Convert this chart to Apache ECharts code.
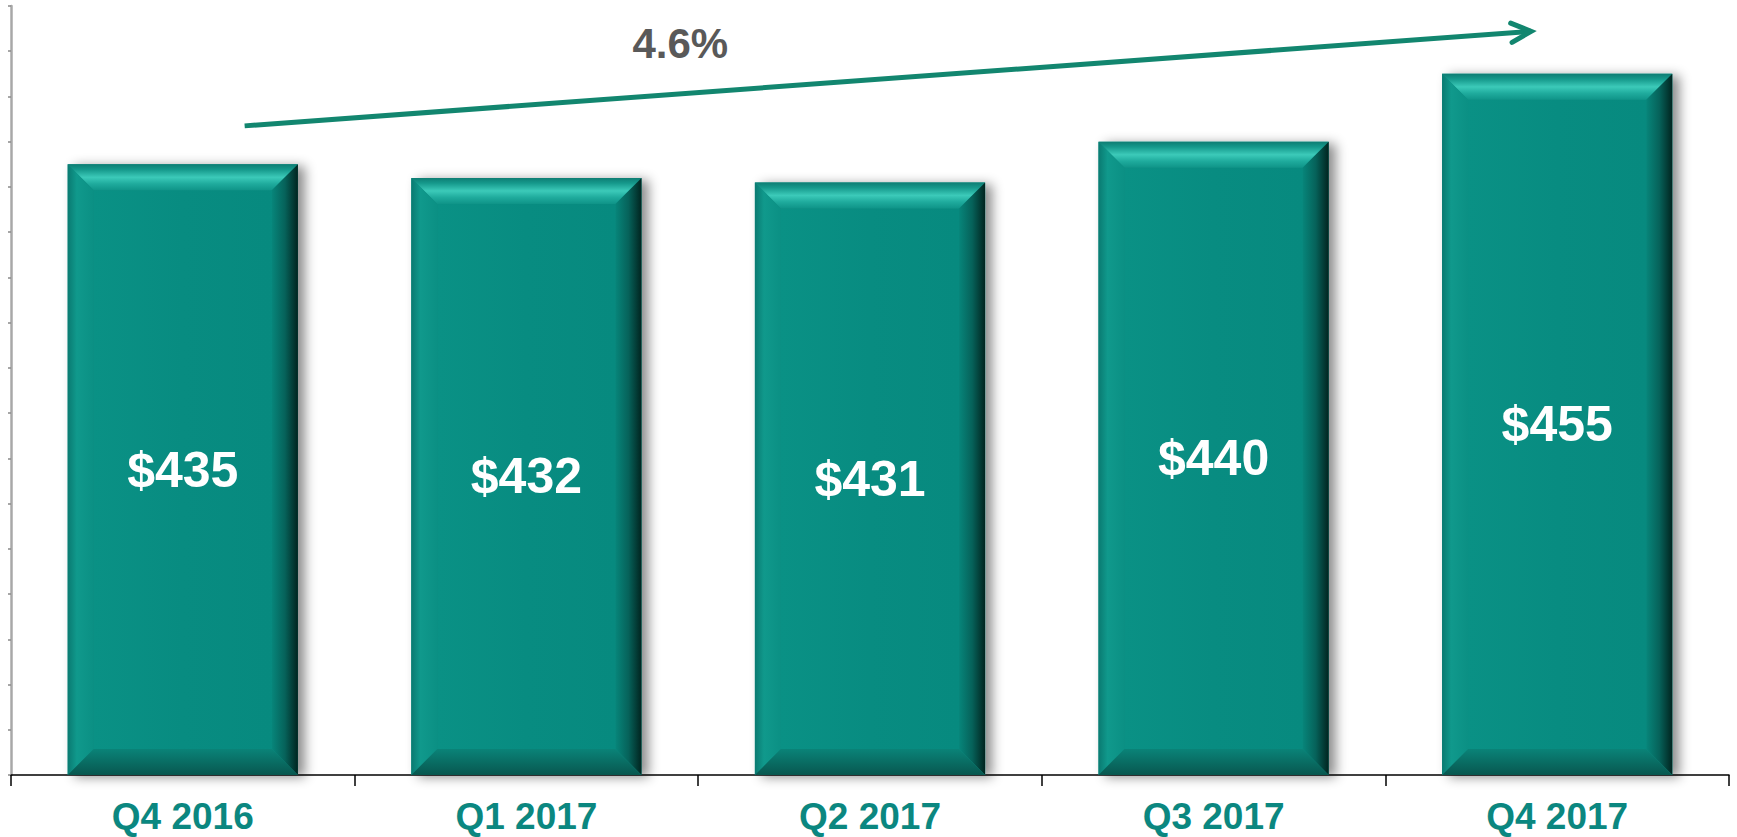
<!DOCTYPE html>
<html><head><meta charset="utf-8">
<script src="https://cdn.jsdelivr.net/npm/echarts/dist/echarts.min.js"></script>
<style>html,body{margin:0;padding:0;background:#fff}#c{width:1737px;height:837px}</style>
</head><body><div id="c"></div>
<script>
// ---- data ----
const categories = ['Q4 2016', 'Q1 2017', 'Q2 2017', 'Q3 2017', 'Q4 2017'];
const values = [435, 432, 431, 440, 455];
const valueLabels = ['$435', '$432', '$431', '$440', '$455'];
const growthLabel = '4.6%';
const yMin = 300, yMax = 470, yStep = 10;
// growth arrow annotation, in data units (category index + band offset, value)
const arrowFrom = [0, 0.18, 443.5];
const arrowTo = [4, -0.076, 464.4];
const growthPos = [1, 0.448, 461.8];

const FONT = '"Liberation Sans", Arial, Helvetica, sans-serif';
const chart = echarts.init(document.getElementById('c'), null, { renderer: 'svg' });

function lin(x, y, x2, y2, stops) {
  return { type: 'linear', x: x, y: y, x2: x2, y2: y2,
    colorStops: stops.map(s => ({ offset: s[0], color: s[1] })) };
}

function renderBar(params, api) {
  const idx = api.value(0);
  const v = api.value(1);
  const topPt = api.coord([idx, v]);
  const basePt = api.coord([idx, yMin]);
  const band = api.size([1, 0])[0];
  const w = band * 0.67;
  const x0 = topPt[0] - w / 2, x1 = topPt[0] + w / 2;
  const y0 = topPt[1], y1 = basePt[1];
  const h = y1 - y0;
  const b = 26;
  return {
    type: 'group',
    children: [
      { type: 'rect', shape: { x: x0, y: y0, width: w, height: h },
        style: { fill: '#078b80', shadowBlur: 12, shadowOffsetX: 7, shadowOffsetY: 2, shadowColor: 'rgba(0,0,0,0.45)' } },
      { type: 'rect', shape: { x: x0 + b, y: y0 + b, width: w - 2 * b, height: h - 2 * b },
        style: { fill: lin(0, 0, 1, 0, [[0, '#0a9185'], [0.5, '#088c81'], [1, '#078a7f']]) } },
      // top bevel
      { type: 'polygon', shape: { points: [[x0, y0], [x1, y0], [x1 - b, y0 + b], [x0 + b, y0 + b]] },
        style: { fill: lin(0, 0, 0, 1, [[0, '#0e7d73'], [0.2, '#15988b'], [0.5, '#3ccab9'], [0.75, '#1fab9d'], [1, '#0f9488']]) } },
      // left bevel
      { type: 'polygon', shape: { points: [[x0, y0], [x0 + b, y0 + b], [x0 + b, y1 - b], [x0, y1]] },
        style: { fill: lin(0, 0, 1, 0, [[0, '#0a7a71'], [0.35, '#10998c'], [1, '#0b9084']]) } },
      // right bevel
      { type: 'polygon', shape: { points: [[x1, y0], [x1, y1], [x1 - b, y1 - b], [x1 - b, y0 + b]] },
        style: { fill: lin(0, 0, 1, 0, [[0, '#07857a'], [0.5, '#06625a'], [1, '#01241f']]) } },
      // bottom bevel
      { type: 'polygon', shape: { points: [[x0, y1], [x0 + b, y1 - b], [x1 - b, y1 - b], [x1, y1]] },
        style: { fill: lin(0, 0, 0, 1, [[0, '#0a8378'], [1, '#08574f']]) } },
      { type: 'text', style: { text: valueLabels[idx], x: (x0 + x1) / 2, y: (y0 + y1) / 2,
        fill: '#ffffff', fontSize: 50, fontWeight: 'bold', fontFamily: FONT,
        align: 'center', verticalAlign: 'middle' } }
    ]
  };
}

chart.setOption({
  animation: false,
  backgroundColor: '#ffffff',
  grid: { left: 11, right: 8, top: 6, bottom: 62, containLabel: false },
  xAxis: {
    type: 'category', data: categories, boundaryGap: true,
    axisLine: { show: true, lineStyle: { color: '#000000', width: 1.5 } },
    axisTick: { show: true, length: 11, alignWithLabel: false, lineStyle: { color: '#000000', width: 1.5 } },
    axisLabel: { color: '#0b8780', fontSize: 37, lineHeight: 37, fontWeight: 'bold', fontFamily: FONT, margin: 23 },
    splitLine: { show: false }
  },
  yAxis: {
    type: 'value', min: yMin, max: yMax, interval: yStep,
    axisLine: { show: true, lineStyle: { color: '#a8a8a8', width: 2.5 } },
    axisTick: { show: true, length: 3, lineStyle: { color: '#8a8a8a', width: 1.5 } },
    axisLabel: { show: false },
    splitLine: { show: false }
  },
  series: [{
    type: 'custom',
    renderItem: renderBar,
    data: values.map((v, i) => [i, v]),
    encode: { x: 0, y: 1 },
    z: 2
  }]
});

function px(p) {
  const c0 = chart.convertToPixel({ xAxisIndex: 0 }, 0);
  const c1 = chart.convertToPixel({ xAxisIndex: 0 }, 1);
  const band = c1 - c0;
  const cx = chart.convertToPixel({ xAxisIndex: 0 }, p[0]) + p[1] * band;
  const cy = chart.convertToPixel({ yAxisIndex: 0 }, p[2]);
  return [cx, cy];
}

const s = px(arrowFrom), e = px(arrowTo), g = px(growthPos);
const ang = Math.atan2(s[1] - e[1], s[0] - e[0]);
const armLen = 22, spread = 26 * Math.PI / 180;
const a1 = [e[0] + armLen * Math.cos(ang + spread), e[1] + armLen * Math.sin(ang + spread)];
const a2 = [e[0] + armLen * Math.cos(ang - spread), e[1] + armLen * Math.sin(ang - spread)];
const arrowColor = '#12866f';

chart.setOption({
  graphic: [
    { type: 'polyline', z: 10, shape: { points: [s, e] },
      style: { stroke: arrowColor, lineWidth: 5, lineCap: 'butt', fill: null } },
    { type: 'polyline', z: 10, shape: { points: [a1, e, a2] },
      style: { stroke: arrowColor, lineWidth: 5, lineCap: 'round', lineJoin: 'miter', fill: null } },
    { type: 'text', z: 10, x: g[0], y: g[1],
      style: { text: growthLabel, fill: '#595959', fontSize: 42, fontWeight: 'bold', fontFamily: FONT,
        align: 'center', verticalAlign: 'middle' } }
  ]
});
</script>
</body></html>
